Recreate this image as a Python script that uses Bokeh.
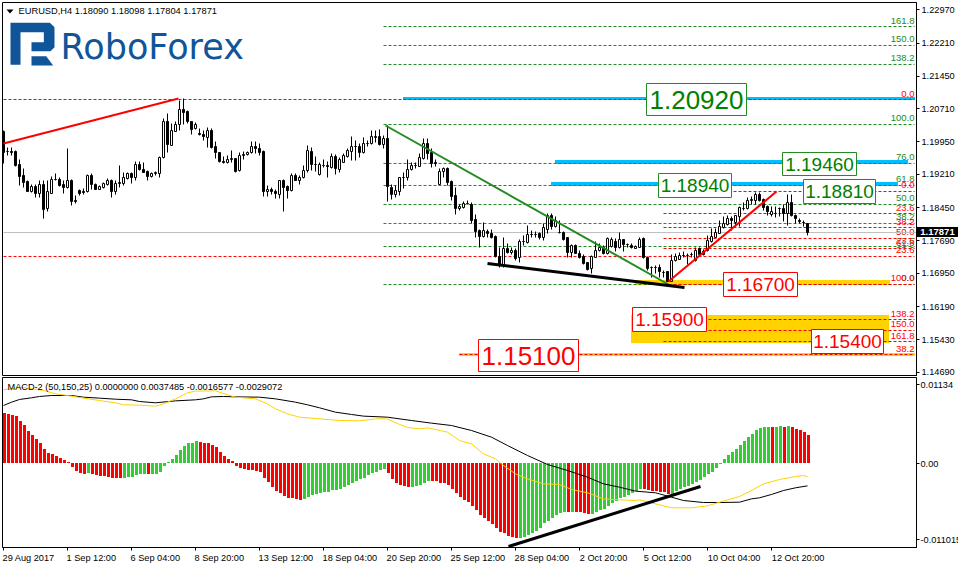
from bokeh.plotting import figure
from bokeh.layouts import column
from bokeh.models import FixedTicker, NumeralTickFormatter, Div, LinearAxis
from bokeh.core.properties import value
from bokeh.embed import file_html
from bokeh.resources import INLINE

opens = [1.2018,1.1974,1.1974,1.1974,1.1944,1.1919,1.1905,1.1882,1.1894,1.1878,
1.1897,1.1843,1.1878,1.1910,1.1910,1.1898,1.1892,1.1907,1.1861,1.1884,
1.1882,1.1881,1.1919,1.1897,1.1887,1.1890,1.1898,1.1907,1.1882,1.1899,
1.1901,1.1911,1.1923,1.1913,1.1944,1.1933,1.1928,1.1915,1.1922,1.1924,
1.1959,1.2042,1.1988,1.2020,1.2035,1.2069,1.2065,1.2042,1.2025,1.2014,
1.2012,1.2006,1.2022,1.1985,1.1971,1.1951,1.1947,1.1955,1.1957,1.1929,
1.1965,1.1966,1.1970,1.1985,1.1980,1.1974,1.1881,1.1886,1.1882,1.1875,
1.1906,1.1894,1.1883,1.1919,1.1907,1.1913,1.1930,1.1974,1.1944,1.1920,
1.1941,1.1941,1.1936,1.1962,1.1933,1.1949,1.1962,1.1974,1.1985,1.1985,
1.1972,1.1991,1.1991,1.2006,1.2007,1.1989,1.2004,1.1890,1.1876,1.1882,
1.1914,1.1914,1.1931,1.1941,1.1940,1.1958,1.1991,1.1972,1.1947,1.1898,
1.1927,1.1934,1.1905,1.1873,1.1844,1.1846,1.1855,1.1853,1.1817,1.1793,
1.1780,1.1791,1.1786,1.1779,1.1733,1.1716,1.1751,1.1743,1.1748,1.1730,
1.1767,1.1766,1.1783,1.1783,1.1785,1.1777,1.1796,1.1828,1.1802,1.1789,
1.1789,1.1776,1.1742,1.1758,1.1741,1.1733,1.1719,1.1705,1.1732,1.1747,
1.1753,1.1741,1.1756,1.1767,1.1753,1.1771,1.1761,1.1758,1.1752,1.1754,
1.1775,1.1732,1.1709,1.1709,1.1709,1.1696,1.1698,1.1675,1.1724,1.1726,
1.1736,1.1736,1.1737,1.1724,1.1751,1.1745,1.1747,1.1768,1.1777,1.1786,
1.1800,1.1806,1.1819,1.1812,1.1825,1.1844,1.1842,1.1861,1.1861,1.1876,
1.1863,1.1847,1.1829,1.1831,1.1842,1.1844,1.1831,1.1856,1.1827,1.1815,
1.1812,1.18090]

highs = [1.2022,1.1983,1.1983,1.1976,1.1955,1.1934,1.1907,1.1898,1.1898,1.1906,
1.1906,1.1907,1.1915,1.1922,1.1913,1.1907,1.1980,1.1909,1.1873,1.1886,
1.1888,1.1920,1.1922,1.1900,1.1896,1.1903,1.1911,1.1909,1.1907,1.1942,
1.1926,1.1926,1.1926,1.1951,1.1951,1.1948,1.1930,1.1926,1.1928,1.1961,
1.2048,1.2060,1.2037,1.2041,1.2090,1.2094,1.2067,1.2042,1.2039,1.2025,
1.2022,1.2029,1.2025,1.1995,1.1972,1.1962,1.1964,1.1976,1.1958,1.1972,
1.1974,1.1974,1.1995,1.1995,1.1991,1.1976,1.1896,1.1892,1.1886,1.1907,
1.1909,1.1896,1.1924,1.1922,1.1919,1.1942,1.1987,1.1983,1.1961,1.1949,
1.1954,1.1951,1.1968,1.1966,1.1959,1.1968,1.1979,1.2007,1.1998,1.1992,
1.2006,1.1998,1.2021,1.2021,1.2023,1.2010,1.2033,1.1898,1.1895,1.1914,
1.1926,1.1954,1.1949,1.1949,1.1968,1.2002,1.2004,1.1979,1.1954,1.1934,
1.1937,1.1936,1.1907,1.1892,1.1853,1.1860,1.1861,1.1857,1.1829,1.1796,
1.1810,1.1796,1.1794,1.1781,1.1754,1.1776,1.1764,1.1754,1.1751,1.1772,
1.1781,1.1804,1.1793,1.1790,1.1789,1.1808,1.1831,1.1831,1.1825,1.1815,
1.1791,1.1777,1.1761,1.1761,1.1747,1.1737,1.1720,1.1735,1.1768,1.1762,
1.1758,1.1777,1.1777,1.1775,1.1787,1.1772,1.1764,1.1762,1.1758,1.1777,
1.1777,1.1733,1.1710,1.1713,1.1714,1.1701,1.1700,1.1738,1.1739,1.1743,
1.1745,1.1739,1.1743,1.1754,1.1754,1.1749,1.1781,1.1797,1.1797,1.1815,
1.1825,1.1827,1.1825,1.1828,1.1847,1.1857,1.1869,1.1870,1.1880,1.1880,
1.1865,1.1850,1.1848,1.1848,1.1846,1.1853,1.1876,1.1876,1.1829,1.1819,
1.1815,1.18098]

lows = [1.1945,1.1964,1.1964,1.1938,1.1896,1.1892,1.1881,1.1880,1.1869,1.1868,
1.1821,1.1835,1.1877,1.1906,1.1894,1.1877,1.1888,1.1849,1.1855,1.1873,
1.1875,1.1880,1.1887,1.1887,1.1887,1.1888,1.1896,1.1867,1.1874,1.1892,
1.1896,1.1909,1.1901,1.1907,1.1930,1.1925,1.1907,1.1913,1.1919,1.1913,
1.1957,1.1972,1.1987,1.2018,1.2022,1.2035,1.2037,1.2012,1.2024,1.2010,
1.1999,1.1983,1.1980,1.1957,1.1948,1.1945,1.1945,1.1947,1.1926,1.1928,
1.1955,1.1963,1.1968,1.1968,1.1964,1.1871,1.1871,1.1875,1.1865,1.1865,
1.1837,1.1865,1.1881,1.1906,1.1898,1.1911,1.1926,1.1930,1.1928,1.1918,
1.1937,1.1914,1.1934,1.1921,1.1926,1.1947,1.1960,1.1953,1.1953,1.1960,
1.1968,1.1985,1.1989,1.1994,1.1987,1.1979,1.1860,1.1864,1.1867,1.1873,
1.1888,1.1908,1.1930,1.1934,1.1939,1.1955,1.1954,1.1936,1.1939,1.1897,
1.1914,1.1895,1.1861,1.1829,1.1838,1.1844,1.1852,1.1809,1.1777,1.1754,
1.1777,1.1776,1.1775,1.1730,1.1709,1.1709,1.1741,1.1738,1.1725,1.1720,
1.1758,1.1764,1.1777,1.1777,1.1773,1.1770,1.1785,1.1796,1.1799,1.1786,
1.1770,1.1732,1.1730,1.1739,1.1728,1.1716,1.1701,1.1695,1.1730,1.1745,
1.1738,1.1738,1.1754,1.1745,1.1752,1.1745,1.1753,1.1751,1.1751,1.1753,
1.1728,1.1701,1.1686,1.1694,1.1686,1.1686,1.1675,1.1675,1.1722,1.1726,
1.1732,1.1716,1.1732,1.1722,1.1736,1.1736,1.1745,1.1766,1.1776,1.1785,
1.1797,1.1804,1.1793,1.1802,1.1802,1.1838,1.1841,1.1853,1.1853,1.1860,
1.1838,1.1827,1.1825,1.1823,1.1825,1.1813,1.1804,1.1825,1.1809,1.1808,
1.1802,1.17804]

closes = [1.1972,1.1974,1.1972,1.1942,1.1916,1.1903,1.1882,1.1894,1.1878,1.1897,
1.1841,1.1882,1.1910,1.1910,1.1896,1.1892,1.1907,1.1858,1.1858,1.1878,
1.1879,1.1919,1.1897,1.1887,1.1893,1.1900,1.1907,1.1882,1.1900,1.1902,
1.1913,1.1923,1.1913,1.1944,1.1932,1.1926,1.1917,1.1922,1.1925,1.1959,
1.2042,1.1989,1.2021,1.2036,1.2069,1.2063,1.2042,1.2024,1.2035,1.2012,
1.2008,1.2022,1.1982,1.1970,1.1951,1.1947,1.1955,1.1957,1.1928,1.1963,
1.1966,1.1971,1.1985,1.1979,1.1972,1.1881,1.1887,1.1882,1.1877,1.1906,
1.1892,1.1883,1.1918,1.1907,1.1913,1.1930,1.1976,1.1944,1.1944,1.1943,
1.1941,1.1940,1.1962,1.1934,1.1954,1.1965,1.1975,1.1985,1.1985,1.1972,
1.1992,1.1991,1.2007,1.2007,1.1989,1.2004,1.1893,1.1876,1.1884,1.1913,
1.1914,1.1931,1.1941,1.1941,1.1960,1.1991,1.1968,1.1945,1.1946,1.1927,
1.1934,1.1902,1.1870,1.1844,1.1848,1.1855,1.1855,1.1815,1.1791,1.1780,
1.1793,1.1786,1.1777,1.1733,1.1715,1.1751,1.1743,1.1748,1.1728,1.1767,
1.1767,1.1783,1.1783,1.1783,1.1776,1.1799,1.1828,1.1802,1.1815,1.1787,
1.1773,1.1743,1.1758,1.1741,1.1730,1.1718,1.1703,1.1733,1.1748,1.1753,
1.1741,1.1775,1.1773,1.1753,1.1771,1.1761,1.1761,1.1753,1.1756,1.1773,
1.1730,1.1706,1.1709,1.1709,1.1698,1.1696,1.1675,1.1724,1.1733,1.1736,
1.1736,1.1736,1.1738,1.1747,1.1738,1.1738,1.1770,1.1779,1.1789,1.1802,
1.1808,1.1819,1.1815,1.1827,1.1846,1.1842,1.1861,1.1863,1.1876,1.1861,
1.1846,1.1835,1.1836,1.1831,1.1844,1.1831,1.1856,1.1827,1.1819,1.1813,
1.1812,1.17871]

# MACD histogram, in units of 0.00001
hist_e5 = [720,706,691,677,605,542,466,403,346,288,202,144,130,101,72,43,14,
-53,-110,-139,-158,-144,-163,-173,-182,-187,-197,-211,-216,-216,
-211,-202,-197,-173,-158,-154,-158,-158,-158,-130,-48,
14,62,115,187,245,288,288,317,298,288,288,264,226,163,101,58,34,
-43,-77,-91,-101,-101,-115,-130,-211,-274,-341,-408,-432,-475,-504,-509,-518,-533,
-518,-485,-461,-446,-427,
-422,-413,-394,-389,-374,-350,-322,-293,-259,-230,-211,-178,-149,-125,-101,-91,
-144,-230,-293,-317,-336,-346,-341,-331,-317,-293,-264,
-259,-259,-283,-293,-317,-379,-437,-485,-538,-566,-614,-677,-749,-797,-835,-878,-931,-989,-1013,-1046,-1061,-1085,
-1085,-1061,-1037,-1003,-979,-941,-869,-830,-787,-744,-725,-706,
-706,-701,-706,-706,-720,-734,
-734,-710,-682,-662,-619,-581,-547,-509,-485,-461,-437,-408,-379,
-374,-389,-398,-403,-413,-418,-442,
-442,-398,-379,-350,-326,-302,-278,-245,-206,-158,-125,-67,-10,
58,115,154,202,259,317,370,418,475,504,518,518,518,518,528,518,533,523,490,475,446,403]
hist_red_runs = [(0,20),(22,29),(36,36),(49,74),(96,101),(107,128),(141,141),(143,146),(160,166),(192,192),(195,195),(197,201)]

black_bars = [0,2,4,7,9,12,17,20,24,28,32,34,38,43,48,50,52,55,58,64,68,73,76,79,83,87,90,96,102,107,
112,117,122,126,131,136,141,146,150,154,158,163,167,170,175,179,184,187,189,192,195,198,201]
black_e5 = [835,883,922,946,965,979,979,955,941,926,917,893,874,902,917,931,960,965,960,955,
931,883,845,802,739,706,682,667,619,581,547,475,379,259,115,-14,-101,-197,-293,-341,
-398,-422,-485,-533,-562,-562,-557,-509,-494,-446,-389,-350,-322]
yellow_bars = [0,3,5,10,13,16,20,24,28,30,34,38,40,43,46,48,53,56,58,63,66,68,71,74,78,84,89,93,96,99,
101,104,106,108,111,114,117,120,123,125,128,131,135,139,142,146,150,154,158,159,163,167,172,176,179,184,187,190,194,198,200,201]
yellow_e5 = [1061,1085,1094,1051,1003,979,941,907,874,845,840,826,859,931,1018,1042,1046,989,955,931,
859,787,715,667,648,619,614,643,643,562,518,499,514,490,451,331,283,139,67,-29,
-149,-221,-293,-302,-374,-422,-509,-523,-533,-523,-581,-638,-638,-610,-557,-475,-389,-293,-230,-187,-173,-187]

price_ticks = [1.22970,1.22210,1.21450,1.20710,1.19950,1.19210,1.18450,1.17690,1.16950,1.16190,1.15430,1.14690]
macd_ticks = [0.01134,0.0,-0.011015]
macd_tick_labels = {0.01134:"0.01134",0.0:"0.00",-0.011015:"-0.011015"}
time_ticks = [0,16,32,48,64,80,96,112,128,144,160,176,192]
time_labels = ["29 Aug 2017","1 Sep 12:00","6 Sep 04:00","8 Sep 20:00","13 Sep 12:00","18 Sep 04:00",
"20 Sep 20:00","25 Sep 12:00","28 Sep 04:00","2 Oct 20:00","5 Oct 12:00","10 Oct 04:00","12 Oct 20:00"]

# Fibonacci levels: (first bar, price, label)
fib_right = 227.75
green_fib = [(95,1.22588,"161.8"),(95,1.22154,"150.0"),(95,1.21720,"138.2"),(95,1.20349,"100.0"),
(95,1.19458,"76.0"),(95,1.18955,"61.8"),(95,1.18521,"50.0"),(95,1.18087,"38.2"),(95,1.17561,"23.6"),(95,1.16693,"0.0")]
red_fib = [(0,1.2092,"0.0"),(165,1.18818,"0.0"),(165,1.18315,"23.6"),(165,1.17995,"38.2"),(165,1.17744,"50.0"),
(165,1.17515,"61.8"),(0,1.17333,"23.6"),(165,1.16693,"100.0"),(165,1.15893,"138.2"),(165,1.15642,"150.0"),
(165,1.15390,"161.8"),(114,1.15093,"38.2")]

last_price = 1.17871

# price-to-pixel relation of the panels, used for annotations and for snapping marks to the pixel grid
PX_P = 0.0002285
PX_M = 0.000144
def X(px): return (px - 3.0) / 4.0
def Y(py): return 1.2092 - (py - 99.0) * PX_P
def MY(py): return (463.0 - py) * PX_M
def snap_line(v):   # stroked marks sit on whole pixels
    return Y(round(99.0 + (1.2092 - v) / PX_P))
def snap_hist(v):   # filled marks sit half a pixel above
    return MY(round(463.0 - v / PX_M) - 0.5)

FONT = "Liberation Sans"
TICK_PX = "9.2px"
CYAN = "#00bfff"; GOLD = "#ffd200"; GREEN = "#228b22"; RED = "#ff0000"

p = figure(width=958, height=376, frame_width=914, frame_height=374, output_backend="svg", toolbar_location=None,
           x_range=(X(2), X(916)), y_range=(Y(376), Y(2)), x_axis_location=None, y_axis_location="right",
           min_border_left=2, min_border_right=42, min_border_top=2, min_border_bottom=0,
           tools="", background_fill_color="white", border_fill_color="white")
p.grid.visible = False
p.outline_line_color = "black"; p.outline_line_width = 1
ya = p.yaxis[0]
ya.ticker = FixedTicker(ticks=price_ticks)
ya.formatter = NumeralTickFormatter(format="0.00000")
ya.major_label_text_font = FONT; ya.major_label_text_font_size = TICK_PX; ya.major_label_text_color = "black"
ya.major_tick_out = 3; ya.major_tick_in = 0; ya.minor_tick_out = 0; ya.minor_tick_in = 0
ya.major_label_standoff = 2; ya.axis_line_color = "black"

# bands (cyan = target zones, gold = support zones)
bands = [(403,915,97,100,CYAN),(555,908,160,164,CYAN),(551,898,182,186,CYAN),
         (635,890,280,285,GOLD),(631,889,315,343,GOLD),(459,915,353,356,GOLD)]
p.quad(left=[X(b[0]-0.5) for b in bands], right=[X(b[1]-0.5) for b in bands], top=[Y(b[2]-0.5) for b in bands],
       bottom=[Y(b[3]-0.5) for b in bands], fill_color=[b[4] for b in bands], line_color=None)

# fibonacci dashes and their captions
for fib, col in ((green_fib, GREEN), (red_fib, RED)):
    p.segment(x0=[f[0] for f in fib], x1=[fib_right]*len(fib), y0=[f[1] for f in fib], y1=[f[1] for f in fib],
              line_color=col, line_width=1, line_dash="3 2")
    p.text(x=[fib_right]*len(fib), y=[f[1] for f in fib], text=[f[2] for f in fib], text_color=col,
           text_font=value(FONT), text_font_size="9.5px", text_align="right", text_baseline="bottom", y_offset=-3)

# last price line
p.segment(x0=[0], x1=[X(916)], y0=[snap_line(last_price)], y1=[snap_line(last_price)], line_color="#c0c0c0", line_width=1)

# candles
idx = list(range(len(opens)))
p.segment(x0=idx, x1=idx, y0=[snap_line(v) for v in lows], y1=[snap_line(v) for v in highs], line_color="black", line_width=1)
tops = [snap_line(max(o, c)) for o, c in zip(opens, closes)]
bots = [snap_line(min(o, c)) for o, c in zip(opens, closes)]
body = ["white" if c > o else "black" for o, c in zip(opens, closes)]
p.vbar(x=idx, width=0.5, top=tops, bottom=bots, fill_color=body, line_color="black", line_width=1)

# trend lines
trend = [(X(3),Y(143),X(178),Y(98),RED,2),(X(385),Y(125),X(668),Y(284),GREEN,2),
         (X(668),Y(281),X(776),Y(191),RED,2),(X(487),Y(263),X(684),Y(287),"black",3)]
for x0,y0,x1,y1,c,w in trend:
    p.line([x0,x1],[y0,y1],line_color=c,line_width=w)

# value boxes
boxes = [("1.20920",646,746,83,115,GREEN,"#008000",26),("1.19460",782,856,152,175,GREEN,"#008000",19),
         ("1.18940",658,731,173,197,GREEN,"#008000",19),("1.18810",803,875,179,203,GREEN,"#008000",19),
         ("1.16700",723,797,272,296,RED,RED,19),("1.15900",632,706,307,331,RED,RED,19),
         ("1.15400",811,883,329,353,RED,RED,19),("1.15100",478,578,339,371,RED,RED,26)]
for t,l,r,a,b,lc,tc,s in boxes:
    p.quad(left=[X(l)],right=[X(r)],top=[Y(a)],bottom=[Y(b)],fill_color="white",line_color=lc,line_width=1)
    p.text(x=[X((l+r)/2)],y=[Y((a+b)/2)],text=[t],text_color=tc,text_font=value(FONT),text_font_size=f"{s}px",
           text_align="center",text_baseline="middle")

# header and logo
p.text(x=[X(18)],y=[Y(10)],text=["EURUSD,H4  1.18090 1.18098 1.17804 1.17871"],text_font=value(FONT),
       text_font_size="9.3px",text_color="black",text_baseline="middle")
p.patch(x=[X(6),X(13),X(9.5)],y=[Y(9),Y(9),Y(13)],fill_color="black",line_color=None)
logo_main = [(30,22),(148,22),(162,35),(162,95),(150,107),(93,107),(93,80),(130,80),(130,50),(60,50),(60,148),(30,148)]
logo_foot = [(93,122),(137,122),(158,150),(93,150)]
for poly in (logo_main, logo_foot):
    p.patch(x=[X(a/3) for a,_ in poly],y=[Y(15+b/3) for _,b in poly],fill_color="#0f5599",line_color=None)
p.text(x=[X(60)],y=[Y(46)],text=["RoboForex"],text_font=value("DejaVu Sans"),text_font_size="35px",text_color="#0f5599",
       text_baseline="middle")

# MACD panel
m = figure(width=958, height=191, frame_width=914, frame_height=170, output_backend="svg", toolbar_location=None,
           x_range=(X(2), X(916)), y_range=(MY(547), MY(377)), x_axis_location="below", y_axis_location="right",
           min_border_left=2, min_border_right=42, min_border_top=1, min_border_bottom=20,
           tools="", background_fill_color="white", border_fill_color="white")
m.grid.visible = False
m.outline_line_color = "black"; m.outline_line_width = 1
ma = m.yaxis[0]
ma.ticker = FixedTicker(ticks=macd_ticks); ma.major_label_overrides = macd_tick_labels
ma.major_label_text_font = FONT; ma.major_label_text_font_size = TICK_PX; ma.major_label_text_color = "black"
ma.major_tick_out = 3; ma.major_tick_in = 0; ma.minor_tick_out = 0; ma.minor_tick_in = 0; ma.major_label_standoff = 1

# tick marks: first axis, no labels
xa = m.xaxis[0]
xa.ticker = FixedTicker(ticks=time_ticks)
xa.major_label_text_color = None; xa.major_label_standoff = 0
xa.major_label_overrides = {t: "" for t in time_ticks}
xa.major_tick_out = 3; xa.major_tick_in = 0; xa.minor_tick_out = 0; xa.minor_tick_in = 0

# left-aligned time captions: a second axis whose labels sit half their width right of each tick
CH = {" ":.278,":":.278,"A":.667,"S":.667,"O":.778,"c":.5}
def half_bars(s, px=9.2):
    return sum(CH.get(ch,.556) for ch in s) * px / 2.0 / 4.0
lab_pos = [t + half_bars(s) - 0.25 for t, s in zip(time_ticks, time_labels)]
xb = LinearAxis(ticker=FixedTicker(ticks=lab_pos), major_label_overrides=dict(zip(lab_pos, time_labels)),
                major_label_text_font=FONT, major_label_text_font_size=TICK_PX, major_label_text_color="black",
                major_tick_line_color=None, minor_tick_line_color=None, axis_line_color=None,
                major_tick_out=0, major_tick_in=0, minor_tick_out=0, minor_tick_in=0, major_label_standoff=2)
m.add_layout(xb, "below")

def is_red(i):
    return any(a <= i <= b for a, b in hist_red_runs)
hvals = [h * 1e-5 for h in hist_e5]
hidx = list(range(len(hvals)))
zero = snap_hist(0.0)
m.vbar(x=[i + 0.25 for i in hidx], width=0.75, top=[max(snap_hist(v), zero) for v in hvals],
       bottom=[min(snap_hist(v), zero) for v in hvals],
       fill_color=[RED if is_red(i) else "#32cd32" for i in hidx], line_color=None)
m.line(black_bars, [v * 1e-5 for v in black_e5], line_color="black", line_width=1)
m.line(yellow_bars, [v * 1e-5 for v in yellow_e5], line_color=GOLD, line_width=1)
m.line([X(508), X(700)], [MY(546), MY(486)], line_color="black", line_width=3)
m.text(x=[X(7)], y=[MY(386)], text=["MACD-2 (50,150,25) 0.0000000 0.0037485 -0.0016577 -0.0029072"], text_font=value(FONT),
       text_font_size="9.2px", text_color="black", text_baseline="middle")

# price tag sitting on the price scale
tag = Div(text="%.5f" % last_price, width=41, height=10,
          styles={"position": "absolute", "left": "917px", "top": "227px", "background-color": "black",
                  "color": "white", "font-family": FONT, "font-size": "9.5px", "font-weight": "bold",
                  "line-height": "10px", "text-align": "center", "z-index": "10", "margin": "0"})

root = column(p, m, tag, spacing=0)
open("out.html", "w").write(file_html(root, INLINE))
